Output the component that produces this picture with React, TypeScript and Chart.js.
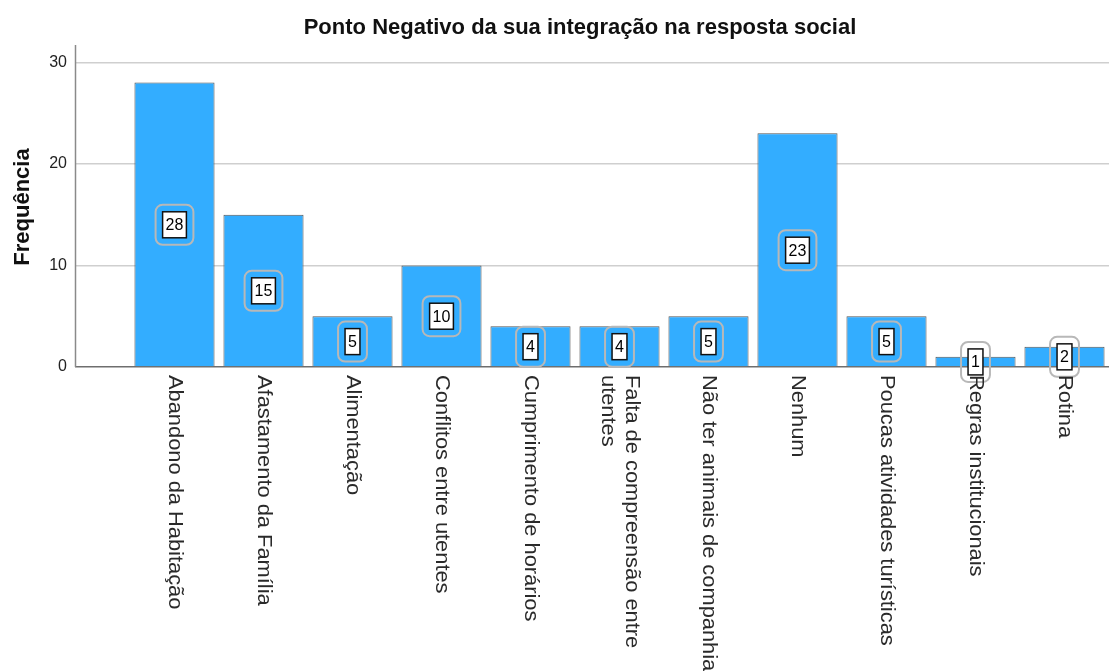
import React, { useEffect, useRef } from "react";
import { Chart, registerables } from "chart.js";

Chart.register(...registerables);

const chartTitle = "Ponto Negativo da sua integração na resposta social";
const yAxisTitle = "Frequência";
const categories: (string | string[])[] = [
  "Abandono da Habitação",
  "Afastamento da Família",
  "Alimentação",
  "Conflitos entre utentes",
  "Cumprimento de horários",
  ["Falta de compreensão entre", "utentes"],
  "Não ter animais de companhia",
  "Nenhum",
  "Poucas atividades turísticas",
  "Regras institucionais",
  "Rotina",
];
const frequencies = [28, 15, 5, 10, 4, 4, 5, 23, 5, 1, 2];
const yMax = 31.7;
const yStep = 10;

const FONT = '"Liberation Sans", Arial, sans-serif';

const overlayPlugin = {
  id: "overlay",
  beforeDatasetsDraw(chart: any) {
    const { ctx, chartArea } = chart;
    ctx.save();
    ctx.strokeStyle = "#8a8a8a";
    ctx.lineWidth = 1.5;
    ctx.beginPath();
    ctx.moveTo(75.5, chartArea.top);
    ctx.lineTo(75.5, chartArea.bottom);
    ctx.stroke();
    ctx.restore();
  },
  afterDatasetsDraw(chart: any) {
    const { ctx, chartArea, scales } = chart;
    const yScale = scales.y;
    const xScale = scales.x;
    const meta = chart.getDatasetMeta(0);
    const data = chart.data.datasets[0].data as number[];

    // value labels
    meta.data.forEach((bar: any, i: number) => {
      const v = data[i];
      const cx = bar.x;
      const cy = yScale.getPixelForValue(v / 2);
      ctx.save();
      ctx.font = `16px ${FONT}`;
      const tw = ctx.measureText(String(v)).width;
      const iw = tw + 6;
      const ih = 26;
      const pad = 7;
      const ow = iw + pad * 2;
      const oh = ih + pad * 2;
      ctx.strokeStyle = "#b8b8b8";
      ctx.lineWidth = 2;
      ctx.beginPath();
      (ctx as any).roundRect(cx - ow / 2, cy - oh / 2, ow, oh, 7);
      ctx.stroke();
      ctx.fillStyle = "#ffffff";
      ctx.fillRect(cx - iw / 2, cy - ih / 2, iw, ih);
      ctx.strokeStyle = "#111111";
      ctx.lineWidth = 1.5;
      ctx.strokeRect(cx - iw / 2, cy - ih / 2, iw, ih);
      ctx.fillStyle = "#000000";
      ctx.textAlign = "center";
      ctx.textBaseline = "middle";
      ctx.fillText(String(v), cx, cy + 1);
      ctx.restore();
    });

    // category labels (rotated clockwise, slightly stretched along the text)
    const lineH = 24;
    categories.forEach((lab, i) => {
      const lines = Array.isArray(lab) ? lab : [lab];
      const x = xScale.getPixelForValue(i);
      ctx.save();
      ctx.translate(x, chartArea.bottom + 8);
      ctx.rotate(Math.PI / 2);
      ctx.scale(1.12, 1);
      ctx.font = `19.5px ${FONT}`;
      ctx.fillStyle = "#2a2a2a";
      ctx.textAlign = "left";
      ctx.textBaseline = "middle";
      lines.forEach((ln, j) => {
        ctx.fillText(ln, 0, (j - (lines.length - 1) / 2) * lineH);
      });
      ctx.restore();
    });

    // y axis title
    ctx.save();
    ctx.translate(23, (chartArea.top + chartArea.bottom) / 2 + 1);
    ctx.rotate(-Math.PI / 2);
    ctx.font = `bold 22px ${FONT}`;
    ctx.fillStyle = "#111111";
    ctx.textAlign = "center";
    ctx.textBaseline = "middle";
    ctx.fillText(yAxisTitle, 0, 0);
    ctx.restore();

    // chart title
    ctx.save();
    ctx.font = `bold 22px ${FONT}`;
    ctx.fillStyle = "#111111";
    ctx.textAlign = "center";
    ctx.textBaseline = "middle";
    ctx.fillText(chartTitle, 580, 28);
    ctx.restore();
  },
};

export default function App() {
  const ref = useRef<HTMLCanvasElement | null>(null);
  useEffect(() => {
    if (!ref.current) return;
    const chart = new Chart(ref.current, {
      type: "bar",
      data: {
        labels: categories.map((c) => (Array.isArray(c) ? c.join(" ") : c)),
        datasets: [
          {
            data: frequencies,
            backgroundColor: "#33adff",
            borderColor: "#555555",
            borderWidth: 1,
            barPercentage: 0.9,
            categoryPercentage: 1.0,
          },
        ],
      },
      options: {
        responsive: false,
        animation: false,
        layout: { padding: { top: 45, left: 0, right: 0, bottom: 0 } },
        plugins: { legend: { display: false }, tooltip: { enabled: false }, title: { display: false } },
        scales: {
          x: {
            type: "category",
            offset: true,
            grid: { display: false },
            border: { display: false },
            ticks: { display: false },
            afterFit: (s: any) => {
              s.height = 304;
            },
          },
          y: {
            min: 0,
            max: yMax,
            border: { display: false },
            ticks: {
              stepSize: yStep,
              includeBounds: false,
              padding: 8,
              color: "#222222",
              font: { family: FONT, size: 16 },
            },
            grid: {
              drawTicks: true,
              tickLength: 55,
              lineWidth: 1.5,
              color: (c: any) => (c.tick && c.tick.value === 0 ? "#6e6e6e" : "#cfcfcf"),
            },
            afterFit: (s: any) => {
              s.width = 130;
            },
          },
        },
      },
      plugins: [overlayPlugin],
    });
    return () => chart.destroy();
  }, []);
  return (
    <div style={{ position: "absolute", left: 0, top: 0, width: 1109, height: 671, background: "#fff" }}>
      <canvas ref={ref} width={1109} height={671} />
    </div>
  );
}
